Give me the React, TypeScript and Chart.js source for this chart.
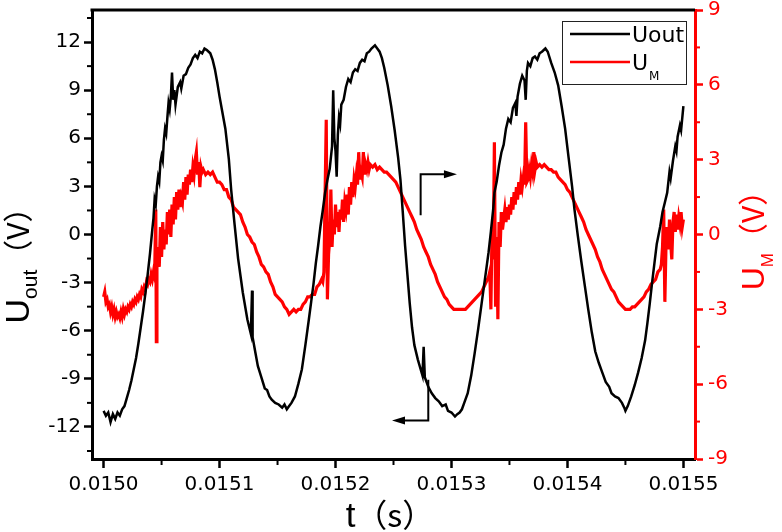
import React, { useEffect, useRef } from "react";
import { Chart, registerables } from "chart.js";

Chart.register(...registerables);

// time axis: seconds = T_START_S + offset (µs) * 1e-6
const T_START_S = 0.015;
const X_MIN = 0.01499;
const X_MAX = 0.01551;

const xTickValues = [0.015, 0.0151, 0.0152, 0.0153, 0.0154, 0.0155];
const xMinorTickValues = [0.01505, 0.01515, 0.01525, 0.01535, 0.01545];
const leftTickValues = [-12, -9, -6, -3, 0, 3, 6, 9, 12];
const leftMinorTickValues = [-13.5, -10.5, -7.5, -4.5, -1.5, 1.5, 4.5, 7.5, 10.5, 13.5];
const rightTickValues = [-9, -6, -3, 0, 3, 6, 9];
const rightMinorTickValues = [-7.5, -4.5, -1.5, 1.5, 4.5, 7.5];

// Uout (left axis, V)
const uOutTimeUs = [
  0, 2, 4, 6, 8, 10, 12, 14, 16, 18,
  20, 22, 24, 26, 28, 30, 32, 34, 36, 38,
  40, 42, 43, 44, 45, 46, 47, 48, 49, 50,
  51, 52, 53, 54, 55, 56, 57, 58, 59, 60,
  61, 62, 64, 66, 67, 69, 71, 73, 75, 77,
  79, 81, 83, 85, 87, 89, 92, 94, 96, 98,
  100, 102, 105, 108, 110, 113, 116, 120, 124, 127,
  128, 128.5, 131, 133, 136, 139, 141, 143, 145, 148,
  151, 154, 156, 158, 160, 162, 165, 168, 171, 174,
  177, 179, 181, 183, 185, 187, 189, 191, 193, 195,
  197, 198, 199, 200, 201, 202, 203, 204, 205, 207,
  209, 211, 213, 215, 217, 219, 221, 223, 225, 227,
  229, 231, 234, 236, 238, 240, 242, 245, 248, 251,
  254, 256, 258, 260, 262, 264, 266, 268, 271, 273,
  275, 276, 277, 280, 283, 286, 289, 292, 295, 297,
  300, 303, 305, 307, 309, 311, 314, 317, 320, 323,
  326, 329, 332, 334, 336, 337, 339, 341, 343, 345,
  347, 349, 351, 353, 355, 356, 357, 359, 361, 363,
  364, 365, 366, 368, 370, 372, 374, 376, 378, 381,
  383, 386, 389, 392, 395, 398, 401, 404, 406, 409,
  412, 415, 418, 421, 424, 427, 430, 433, 436, 438,
  441, 444, 447, 449, 450, 452, 455, 458, 461, 464,
  467, 469, 471, 473, 475, 477, 480, 482, 484, 486,
  488, 489, 491, 493, 494, 495, 497, 498, 500,
];
const uOutVolts = [
  -11.0, -11.3, -11.1, -11.7, -11.2, -11.5, -11.1, -11.3, -10.9, -10.7,
  -10.2, -9.7, -9.1, -8.4, -7.7, -6.8, -5.8, -4.8, -3.7, -2.5,
  -1.2, 0.3, 1.0, 2.2, 1.9, 3.0, 3.6, 3.3, 4.5, 4.9,
  4.6, 5.9, 6.6, 6.3, 7.3, 8.2, 7.8, 8.6, 10.1, 8.4,
  9.0, 8.1, 9.2, 9.5, 9.1, 9.9, 10.0, 10.4, 10.6, 11.0,
  11.2, 11.0, 11.4, 11.3, 11.6, 11.5, 11.3, 10.9, 10.3, 9.5,
  8.6, 7.8, 6.6, 4.7, 2.8, 0.6, -1.5, -3.6, -5.3, -6.2,
  -3.5, -6.4, -7.4, -8.2, -8.9, -9.6, -9.7, -10.1, -10.3, -10.5,
  -10.6, -10.8, -10.6, -10.9, -10.7, -10.5, -10.1, -9.3, -8.4, -6.9,
  -5.3, -4.2, -3.1, -1.8, -0.7, 0.5, 1.5, 2.6, 3.4, 4.1,
  5.5, 9.0, 6.0, 5.2, 3.6, 6.2, 7.3, 6.9, 8.1, 8.4,
  9.2, 9.7, 9.5, 10.1, 10.3, 10.2, 10.7, 10.9, 10.8, 11.3,
  11.4, 11.6, 11.8, 11.6, 11.4, 11.0, 10.4, 9.3, 8.0, 6.5,
  4.8, 3.4, 1.4, -0.7, -2.5, -4.3, -5.8, -6.9, -7.8, -8.3,
  -8.8, -7.0, -8.9, -9.5, -9.9, -10.2, -10.4, -10.7, -10.6, -11.0,
  -11.1, -11.35, -11.2, -11.1, -10.9, -10.5, -9.9, -8.8, -7.4, -5.9,
  -4.3, -2.7, -1.1, 0.2, 1.6, 2.6, 3.3, 4.3, 5.1, 5.6,
  6.6, 7.2, 7.0, 7.9, 8.2, 7.4, 8.6, 9.4, 9.9, 9.6,
  8.4, 10.2, 10.7, 10.5, 11.0, 11.1, 10.9, 11.3, 11.4, 11.6,
  11.4, 10.7, 10.1, 9.3, 8.0, 6.6, 4.8, 3.0, 1.6, -0.1,
  -1.7, -3.2, -4.7, -6.1, -7.3, -8.0, -8.6, -9.2, -9.5, -9.9,
  -10.1, -10.2, -10.5, -10.8, -11.0, -10.7, -10.1, -9.4, -8.6, -7.7,
  -6.6, -5.5, -4.3, -3.0, -1.8, -0.6, 0.5, 1.4, 2.0, 2.6,
  3.9, 3.5, 4.6, 5.5, 5.2, 6.1, 6.8, 6.5, 8.0,
];

// UM (right axis, V)
const uMTimeUs = [
  0, 1, 2, 3, 4, 5, 6, 7, 8, 9,
  10, 11, 12, 13, 14, 15, 16, 17, 18, 19,
  20, 21, 22, 23, 24, 25, 26, 27, 28, 29,
  30, 31, 32, 33, 34, 35, 36, 37, 38, 39,
  40, 41, 42, 43, 44, 45, 45.5, 46, 47, 48,
  49, 50, 51, 52, 53, 54, 55, 56, 57, 58,
  59, 60, 61, 62, 63, 64, 65, 66, 67, 68,
  69, 70, 71, 72, 73, 74, 75, 76, 77, 78,
  79, 80, 81, 82, 83, 84, 85, 86, 87, 88,
  90, 92, 94, 96, 98, 100, 102, 104, 106, 108,
  110, 112, 114, 116, 118, 120, 122, 124, 126, 128,
  130, 132, 134, 136, 138, 140, 142, 144, 146, 148,
  150, 152, 154, 156, 158, 160, 162, 164, 166, 168,
  170, 172, 174, 176, 178, 180, 182, 184, 186, 188,
  189, 190, 192, 193, 194, 195, 196, 197, 198, 199,
  200, 201, 202, 203, 204, 205, 206, 207, 208, 209,
  210, 211, 212, 213, 214, 215, 216, 217, 218, 219,
  220, 221, 222, 223, 224, 225, 226, 227, 228, 229,
  230, 232, 234, 236, 238, 240, 242, 244, 246, 248,
  250, 252, 254, 256, 258, 260, 262, 264, 266, 268,
  270, 272, 274, 276, 278, 280, 282, 284, 286, 288,
  290, 292, 294, 296, 298, 300, 302, 304, 306, 308,
  310, 312, 314, 316, 318, 320, 322, 324, 326, 328,
  330, 332, 333, 334, 335, 336, 337, 338, 339, 340,
  341, 342, 343, 344, 345, 346, 347, 348, 349, 350,
  351, 352, 353, 354, 355, 356, 357, 358, 359, 360,
  361, 362, 363, 364, 365, 366, 367, 368, 369, 370,
  371, 372, 373, 374, 376, 378, 380, 382, 384, 386,
  388, 390, 392, 394, 396, 398, 400, 402, 404, 406,
  408, 410, 412, 414, 416, 418, 420, 422, 424, 426,
  428, 430, 432, 434, 436, 438, 440, 442, 444, 446,
  448, 450, 452, 454, 456, 458, 460, 462, 464, 466,
  468, 470, 472, 474, 476, 478, 480, 481, 482, 483,
  484, 485, 486, 487, 488, 489, 490, 491, 492, 493,
  494, 495, 496, 497, 498, 499, 500,
];
const uMVolts = [
  -2.5, -2.3, -2.7, -2.6, -2.9, -2.8, -3.1, -2.9, -3.2, -3.0,
  -3.3, -3.1, -3.3, -3.2, -3.35, -3.1, -3.3, -3.0, -3.2, -3.0,
  -3.1, -2.9, -3.0, -2.8, -2.9, -2.7, -2.8, -2.6, -2.7, -2.5,
  -2.6, -2.4, -2.5, -2.2, -2.3, -2.1, -2.2, -1.9, -2.0, -1.8,
  -1.9, -1.6, -1.8, -1.5, -1.7, 1.0, -4.3, -1.2, -0.5, -1.3,
  0.3, -0.9, 0.5, -0.6, 0.2, -0.4, 0.9, 0.0, 1.0, -0.1,
  1.2, 0.4, 1.5, 0.6, 1.7, 1.0, 1.8, 1.1, 1.5, 1.3,
  2.1, 1.4, 2.3, 1.6, 2.4, 2.0, 2.6, 2.1, 2.7, 2.4,
  3.0, 3.3, 2.4, 2.9, 1.9, 2.7, 2.5, 2.6, 2.5, 2.4,
  2.5, 2.4, 2.5, 2.3, 2.1, 2.1, 2.0, 1.8, 1.8, 1.5,
  1.4, 1.1, 1.0, 0.9, 0.8, 0.5, 0.3, 0.0, -0.1, -0.3,
  -0.4, -0.7, -0.9, -1.2, -1.3, -1.5, -1.6, -1.9, -2.1, -2.4,
  -2.5, -2.6, -2.7, -2.9, -3.0, -3.2, -3.1, -3.0, -3.1, -3.0,
  -3.0, -2.8, -2.7, -2.5, -2.5, -2.4, -2.4, -2.1, -2.0, -1.8,
  -1.9, -1.5, 4.6, -2.6, -0.8, -0.2, 1.8, -0.5, 0.6, 0.0,
  1.2, 0.3, 0.9, 0.1, 1.0, 0.6, 1.4, 0.5, 1.3, 1.0,
  1.6, 0.8, 1.9, 1.2, 2.1, 1.5, 2.2, 1.9, 2.4, 2.0,
  3.3, 2.2, 2.5, 2.3, 3.3, 2.4, 2.8, 2.6, 2.9, 2.6,
  2.8, 2.7, 2.8, 2.6, 2.7, 2.6, 2.5, 2.5, 2.4, 2.3,
  2.2, 2.1, 1.9, 1.7, 1.5, 1.3, 1.1, 0.9, 0.7, 0.5,
  0.2, 0.0, -0.2, -0.5, -0.7, -0.9, -1.2, -1.4, -1.6, -1.9,
  -2.1, -2.3, -2.5, -2.6, -2.8, -2.9, -3.0, -3.0, -3.0, -3.0,
  -3.0, -3.0, -2.9, -2.8, -2.7, -2.6, -2.5, -2.4, -2.3, -2.1,
  -1.9, -1.7, -1.5, -3.0, 0.3, -1.0, 3.7, -2.9, -0.1, -3.4,
  0.5, -0.5, 0.9, 0.2, 0.6, 1.0, 0.5, 1.1, 0.6, 1.2,
  0.8, 1.5, 1.0, 1.7, 1.2, 1.9, 1.4, 2.1, 1.6, 2.2,
  1.9, 2.3, 2.0, 4.5, 2.1, 2.2, 2.6, 2.3, 2.8, 2.5,
  3.3, 2.6, 2.9, 2.7, 2.8, 2.7, 2.8, 2.7, 2.6, 2.6,
  2.5, 2.5, 2.3, 2.2, 2.1, 2.0, 1.8, 1.7, 1.5, 1.3,
  1.1, 0.9, 0.7, 0.5, 0.2, 0.0, -0.2, -0.4, -0.6, -0.9,
  -1.1, -1.4, -1.6, -1.8, -2.0, -2.2, -2.3, -2.5, -2.7, -2.8,
  -2.9, -3.0, -3.0, -3.0, -2.9, -2.9, -2.8, -2.7, -2.6, -2.5,
  -2.3, -2.2, -2.0, -1.9, -1.8, -1.5, -1.4, -1.2, -0.5, 1.0,
  -2.7, -0.4, 0.3, -0.6, 0.6, -0.3, -1.0, 0.5, 0.9, 0.1,
  0.8, 0.2, 0.7, 0.4, 0.9, 0.3, 0.6,
];

// Annotation arrows (data coordinates: time in µs offset, Uout axis volts)
const arrowToRightAxis = { xUs: 273.4, yFrom: 1.2, yTo: 3.75, xTipUs: 304.7 };
const arrowToLeftAxis = { xUs: 280.0, yFrom: -9.06, yTo: -11.6, xTipUs: 248.7 };

const legendEntries = [
  { main: "Uout", sub: "", color: "#000000" },
  { main: "U", sub: "M", color: "#ff0000" },
];

const TICK_FONT = { family: "'DejaVu Sans', sans-serif", size: 20 };
const TITLE_FAMILY = "'Liberation Sans', 'Noto Sans CJK SC', sans-serif";
const CJK_FAMILY = "'Noto Sans CJK SC', sans-serif";

const toSeconds = (us: number) => T_START_S + us * 1e-6;

function line(ctx: CanvasRenderingContext2D, x0: number, y0: number, x1: number, y1: number) {
  ctx.beginPath();
  ctx.moveTo(x0, y0);
  ctx.lineTo(x1, y1);
  ctx.stroke();
}

type Part = { text: string; font: string; dy: number };

function drawParts(ctx: CanvasRenderingContext2D, parts: Part[], cx: number, cy: number, rotate: boolean, color: string) {
  ctx.save();
  ctx.translate(cx, cy);
  if (rotate) ctx.rotate(-Math.PI / 2);
  ctx.fillStyle = color;
  ctx.textBaseline = "alphabetic";
  ctx.textAlign = "left";
  let total = 0;
  const widths = parts.map((p) => {
    ctx.font = p.font;
    const w = ctx.measureText(p.text).width;
    total += w;
    return w;
  });
  let x = -total / 2;
  parts.forEach((p, i) => {
    ctx.font = p.font;
    ctx.fillText(p.text, x, p.dy);
    x += widths[i];
  });
  ctx.restore();
}

const noEdgePadding = (s: any) => {
  s.paddingTop = 0;
  s.paddingBottom = 0;
  s.paddingLeft = 0;
  s.paddingRight = 0;
};

const decorPlugin = {
  id: "decor",
  afterDraw(chart: any) {
    const { ctx, chartArea, scales } = chart;
    const xs = scales.x;
    const yl = scales.y;
    const yr = scales.y2;
    ctx.save();
    // top frame
    ctx.strokeStyle = "#000";
    ctx.lineWidth = 3;
    line(ctx, chartArea.left - 1.5, chartArea.top, chartArea.right, chartArea.top);
    // minor ticks
    ctx.lineWidth = 2;
    xMinorTickValues.forEach((v) => {
      const p = xs.getPixelForValue(v);
      line(ctx, p, chartArea.bottom, p, chartArea.bottom + 6);
    });
    leftMinorTickValues.forEach((v) => {
      const p = yl.getPixelForValue(v);
      line(ctx, chartArea.left - 5, p, chartArea.left, p);
    });
    ctx.strokeStyle = "#ff0000";
    rightMinorTickValues.forEach((v) => {
      const p = yr.getPixelForValue(v);
      line(ctx, chartArea.right, p, chartArea.right + 5, p);
    });

    // annotation arrows
    ctx.strokeStyle = "#000";
    ctx.fillStyle = "#000";
    ctx.lineWidth = 2;
    {
      const a = arrowToRightAxis;
      const x0 = xs.getPixelForValue(toSeconds(a.xUs));
      const y0 = yl.getPixelForValue(a.yFrom);
      const y1 = yl.getPixelForValue(a.yTo);
      const xt = xs.getPixelForValue(toSeconds(a.xTipUs));
      ctx.beginPath();
      ctx.moveTo(x0, y0);
      ctx.lineTo(x0, y1);
      ctx.lineTo(xt - 8, y1);
      ctx.stroke();
      ctx.beginPath();
      ctx.moveTo(xt, y1);
      ctx.lineTo(xt - 13, y1 - 4);
      ctx.lineTo(xt - 13, y1 + 4);
      ctx.closePath();
      ctx.fill();
    }
    {
      const a = arrowToLeftAxis;
      const x0 = xs.getPixelForValue(toSeconds(a.xUs));
      const y0 = yl.getPixelForValue(a.yFrom);
      const y1 = yl.getPixelForValue(a.yTo);
      const xt = xs.getPixelForValue(toSeconds(a.xTipUs));
      ctx.beginPath();
      ctx.moveTo(x0, y0);
      ctx.lineTo(x0, y1);
      ctx.lineTo(xt + 8, y1);
      ctx.stroke();
      ctx.beginPath();
      ctx.moveTo(xt, y1);
      ctx.lineTo(xt + 13, y1 - 4);
      ctx.lineTo(xt + 13, y1 + 4);
      ctx.closePath();
      ctx.fill();
    }

    // legend
    const bx = chartArea.right - 133;
    const by = chartArea.top + 11;
    const bw = 124;
    const bh = 63;
    ctx.fillStyle = "#fff";
    ctx.fillRect(bx, by, bw, bh);
    ctx.strokeStyle = "#222";
    ctx.lineWidth = 1;
    ctx.strokeRect(bx + 0.5, by + 0.5, bw, bh);
    legendEntries.forEach((e, i) => {
      const ly = by + 13 + i * 28;
      ctx.strokeStyle = e.color;
      ctx.lineWidth = 2.5;
      line(ctx, bx + 8, ly, bx + 68, ly);
      ctx.fillStyle = "#000";
      ctx.textBaseline = "alphabetic";
      ctx.textAlign = "left";
      ctx.font = "22px 'DejaVu Sans', sans-serif";
      const tx = bx + 70;
      ctx.fillText(e.main, tx, ly + 8);
      if (e.sub) {
        const w = ctx.measureText(e.main).width;
        ctx.font = "12px 'DejaVu Sans', sans-serif";
        ctx.fillText(e.sub, tx + w + 1, ly + 18);
      }
    });
    ctx.restore();

    // axis titles
    drawParts(
      ctx,
      [
        { text: "U", font: `34px ${TITLE_FAMILY}`, dy: 12 },
        { text: "out", font: `21px ${TITLE_FAMILY}`, dy: 20 },
        { text: "（V）", font: `30px ${CJK_FAMILY}`, dy: 12 },
      ],
      17,
      258,
      true,
      "#000"
    );
    drawParts(
      ctx,
      [
        { text: "U", font: `32px ${TITLE_FAMILY}`, dy: 10 },
        { text: "M", font: `17px ${TITLE_FAMILY}`, dy: 19 },
        { text: "（V）", font: `30px ${CJK_FAMILY}`, dy: 10 },
      ],
      754,
      233,
      true,
      "#ff0000"
    );
    drawParts(
      ctx,
      [
        { text: "t", font: `35px ${TITLE_FAMILY}`, dy: 0 },
        { text: "（s）", font: `32px ${CJK_FAMILY}`, dy: 0 },
      ],
      390,
      527,
      false,
      "#000"
    );
  },
};

export default function App() {
  const ref = useRef<HTMLCanvasElement>(null);
  useEffect(() => {
    const canvas = ref.current;
    if (!canvas) return;
    const outData = uOutTimeUs.map((t, i) => ({ x: toSeconds(t), y: uOutVolts[i] }));
    const mData = uMTimeUs.map((t, i) => ({ x: toSeconds(t), y: uMVolts[i] }));
    const chart = new Chart(canvas, {
      type: "line",
      data: {
        datasets: [
          {
            label: "Uout",
            data: outData,
            borderColor: "#000000",
            borderWidth: 2.5,
            pointRadius: 0,
            tension: 0,
            yAxisID: "y",
          },
          {
            label: "UM",
            data: mData,
            borderColor: "#ff0000",
            borderWidth: 3.2,
            pointRadius: 0,
            tension: 0,
            yAxisID: "y2",
          },
        ],
      },
      options: {
        animation: false,
        responsive: false,
        devicePixelRatio: 1,
        layout: { padding: { top: 10, left: 0, right: 0, bottom: 0 } },
        plugins: { legend: { display: false }, tooltip: { enabled: false } },
        scales: {
          x: {
            type: "linear",
            position: "bottom",
            min: X_MIN,
            max: X_MAX,
            afterBuildTicks: (s: any) => {
              s.ticks = xTickValues.map((value) => ({ value }));
            },
            afterFit: (s: any) => {
              s.height = 73;
              noEdgePadding(s);
            },
            ticks: {
              callback: (v: any) => Number(v).toFixed(4),
              font: TICK_FONT,
              color: "#000",
              padding: 5,
              maxRotation: 0,
              autoSkip: false,
            },
            grid: { display: true, drawOnChartArea: false, drawTicks: true, tickLength: 9, tickWidth: 2.5, tickColor: "#000" },
            border: { display: true, color: "#000", width: 3 },
          },
          y: {
            type: "linear",
            position: "left",
            min: -14,
            max: 14,
            afterBuildTicks: (s: any) => {
              s.ticks = leftTickValues.map((value) => ({ value }));
            },
            afterFit: (s: any) => {
              s.width = 92;
              noEdgePadding(s);
            },
            ticks: { font: TICK_FONT, color: "#000", padding: 3, autoSkip: false },
            grid: { display: true, drawOnChartArea: false, drawTicks: true, tickLength: 8, tickWidth: 2.5, tickColor: "#000" },
            border: { display: true, color: "#000", width: 3 },
          },
          y2: {
            type: "linear",
            position: "right",
            min: -9,
            max: 9,
            afterBuildTicks: (s: any) => {
              s.ticks = rightTickValues.map((value) => ({ value }));
            },
            afterFit: (s: any) => {
              s.width = 87;
              noEdgePadding(s);
            },
            ticks: { font: TICK_FONT, color: "#ff0000", padding: 5, autoSkip: false },
            grid: { display: true, drawOnChartArea: false, drawTicks: true, tickLength: 8, tickWidth: 2.5, tickColor: "#ff0000" },
            border: { display: true, color: "#ff0000", width: 3 },
          },
        },
      },
      plugins: [decorPlugin],
    } as any);
    return () => chart.destroy();
  }, []);
  return (
    <div style={{ position: "absolute", left: 0, top: 0, width: 782, height: 532, background: "#fff" }}>
      <canvas ref={ref} width={782} height={532} style={{ display: "block" }} />
    </div>
  );
}
